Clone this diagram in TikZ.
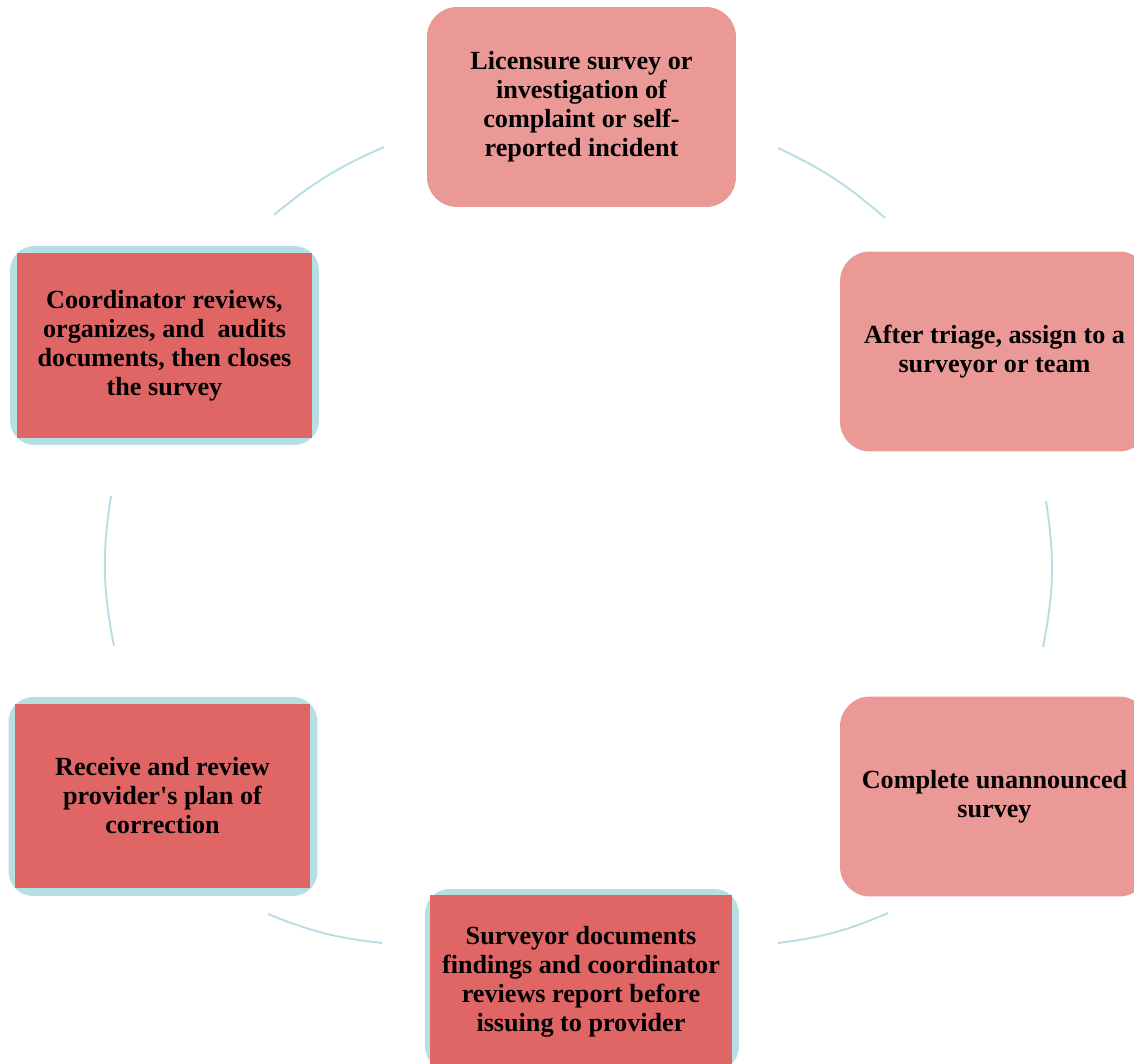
\documentclass[tikz,border=0pt]{standalone}
\usepackage{fontspec}
\setmainfont{Liberation Serif}
\usepackage{tikz}
\usetikzlibrary{positioning}
\definecolor{pinkstep}{RGB}{234,153,151}
\definecolor{redstep}{RGB}{224,102,102}
\definecolor{cyanring}{RGB}{183,223,227}

\begin{document}
\begin{tikzpicture}[x=0.02cm, y=-0.02cm]
			\tikzstyle{stage}=[rounded corners=17pt, fill=pinkstep, minimum width=6.18cm, minimum height=4cm, inner sep=0pt, align=center, font=\bfseries\fontsize{14.9}{16.5}\selectfont]
			\tikzstyle{backing}=[rounded corners=14pt, fill=cyanring, minimum width=6.18cm, minimum height=3.98cm, inner sep=0pt]
			\tikzstyle{redbox}=[fill=redstep, minimum width=5.9cm, minimum height=3.7cm, inner sep=0pt, align=center, font=\bfseries\fontsize{14.9}{16.5}\selectfont]
			\tikzstyle{ring}=[draw=cyanring, line width=1.1pt]
			
			\clip (0,0) rectangle (1134,1064);
			
			\draw node at (581.5, 107) [stage] (survey) {Licensure survey or\\investigation of\\complaint or self-\\reported incident};
			\draw node at (994.5, 351.5) [stage] (triage) {After triage, assign to a\\surveyor or team};
			\draw node at (994.5, 796.5) [stage] (visit) {Complete unannounced\\survey};
			
			% the red steps sit on a blue rounded backing
			\draw node at (582, 980) [backing, minimum width=6.28cm, minimum height=3.64cm] (reportbg) {};
			\draw node at (581, 982) [redbox, minimum width=6.04cm, minimum height=3.48cm] (report) {Surveyor documents\\findings and coordinator\\reviews report before\\issuing to provider};
			\draw node at (163, 796.5) [backing] (planbg) {};
			\draw node at (162.5, 796) [redbox] (plan) {Receive and review\\provider\textquotesingle s plan of\\correction};
			\draw node at (164.5, 345.5) [backing] (closebg) {};
			\draw node at (164.5, 345.5) [redbox] (close) {Coordinator reviews,\\organizes, and\ \ audits\\documents, then closes\\the survey};
			
			\coordinate (r1a) at (778, 148);
			\coordinate (r1b) at (885, 218);
			\coordinate (r2a) at (1046, 501);
			\coordinate (r2b) at (1043, 647);
			\coordinate (r3a) at (888, 913);
			\coordinate (r3b) at (778, 943);
			\coordinate (r4a) at (382, 943);
			\coordinate (r4b) at (268, 914);
			\coordinate (r5a) at (114, 646);
			\coordinate (r5b) at (111, 496);
			\coordinate (r6a) at (274, 215);
			\coordinate (r6b) at (384, 147);
			
			\draw [ring]  (r1a) to[bend left=8]  (r1b);
			\draw [ring]  (r2a) to[bend left=10]  (r2b);
			\draw [ring]  (r3a) to[bend left=8]  (r3b);
			\draw [ring]  (r4a) to[bend left=8]  (r4b);
			\draw [ring]  (r5a) to[bend left=10]  (r5b);
			\draw [ring]  (r6a) to[bend left=8]  (r6b);
\end{tikzpicture}
\end{document}
